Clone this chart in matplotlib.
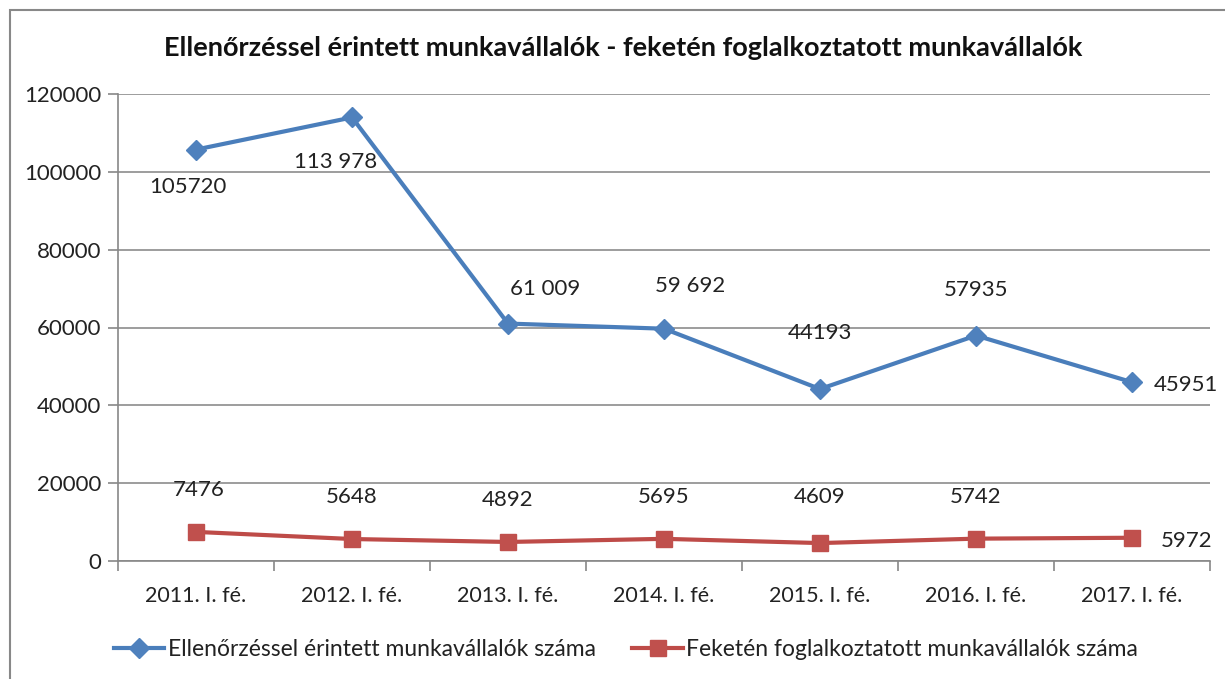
import matplotlib
matplotlib.use("Agg")
import matplotlib.pyplot as plt
from matplotlib.patches import Rectangle

plt.rcParams['font.family'] = ['Lato', 'DejaVu Sans']

categories = ["2011. I. fé.", "2012. I. fé.", "2013. I. fé.", "2014. I. fé.",
              "2015. I. fé.", "2016. I. fé.", "2017. I. fé."]
checked = [105720, 113978, 61009, 59692, 44193, 57935, 45951]
checked_labels = ["105720", "113 978", "61 009", "59 692", "44193", "57935", "45951"]
black = [7476, 5648, 4892, 5695, 4609, 5742, 5972]
black_labels = ["7476", "5648", "4892", "5695", "4609", "5742", "5972"]
series_names = ["Ellenőrzéssel érintett munkavállalók száma",
                "Feketén foglalkoztatott munkavállalók száma"]
title = "Ellenőrzéssel érintett munkavállalók - feketén foglalkoztatott munkavállalók"
yticks = [0, 20000, 40000, 60000, 80000, 100000, 120000]

W, H = 1225, 679
fig = plt.figure(figsize=(W / 100, H / 100), dpi=100)
ax = fig.add_axes([118 / W, 1 - 561 / H, (1210 - 118) / W, (561 - 94) / H])

x = list(range(len(categories)))
blue_line = "#4A7EBB"
red_line = "#BE4B48"
l1, = ax.plot(x, checked, color=blue_line, lw=3, marker="D", ms=10,
              mfc="#4F81BD", mec="#4F81BD", zorder=3)
l2, = ax.plot(x, black, color=red_line, lw=3, marker="s", ms=12,
              mfc="#C0504D", mec="#C0504D", zorder=3)

ax.set_xlim(-0.5, len(categories) - 0.5)
ax.set_ylim(0, 120000)
ax.set_yticks(yticks)
ax.set_yticklabels([str(v) for v in yticks])
ax.set_xticks(x)
ax.set_xticklabels(categories)
ax.set_xticks([i - 0.5 for i in range(len(categories) + 1)], minor=True)
ax.tick_params(axis="x", which="major", length=0, pad=18, labelsize=15.5, colors="#222222")
ax.tick_params(axis="x", which="minor", length=7, width=1.2, color="#888888", direction="out")
ax.tick_params(axis="y", length=7, width=1.2, color="#888888", pad=5, labelsize=16,
               labelcolor="#222222")
ax.grid(axis="y", color="#8c8c8c", lw=1.2)
ax.set_axisbelow(True)
for s in ["top", "right"]:
    ax.spines[s].set_visible(False)
for s in ["left", "bottom"]:
    ax.spines[s].set_color("#888888")
    ax.spines[s].set_linewidth(1.2)

blue_off = [(-6, -27), (-12, -32), (27, 25), (19, 31), (0, 40), (0, 33), (39, -2)]
red_off = [(2, 30), (0, 30), (0, 30), (0, 30), (0, 33), (0, 30), (39, -2)]
for i in x:
    ax.annotate(checked_labels[i], (i, checked[i]), xytext=blue_off[i],
                textcoords="offset points", ha="center", va="center",
                fontsize=16, color="#222222")
    ax.annotate(black_labels[i], (i, black[i]), xytext=red_off[i],
                textcoords="offset points", ha="center", va="center",
                fontsize=16, color="#222222")

fig.text(623 / W, 1 - 48 / H, title, ha="center", va="center",
         fontsize=19.5, fontweight="bold", color="#111111")

fig.legend([l1, l2], series_names, loc="center", bbox_to_anchor=(626 / W, 1 - 650 / H),
           ncol=2, frameon=False, fontsize=16.5, handlelength=2.2, columnspacing=1.6,
           handletextpad=0.15, labelcolor="#222222")

fig.patches.append(Rectangle((10 / W, -0.05), 1.2, 1 - 10 / H + 0.05,
                             transform=fig.transFigure, fill=False,
                             edgecolor="#888888", lw=1.5))

fig.savefig("out.png", dpi=100)
